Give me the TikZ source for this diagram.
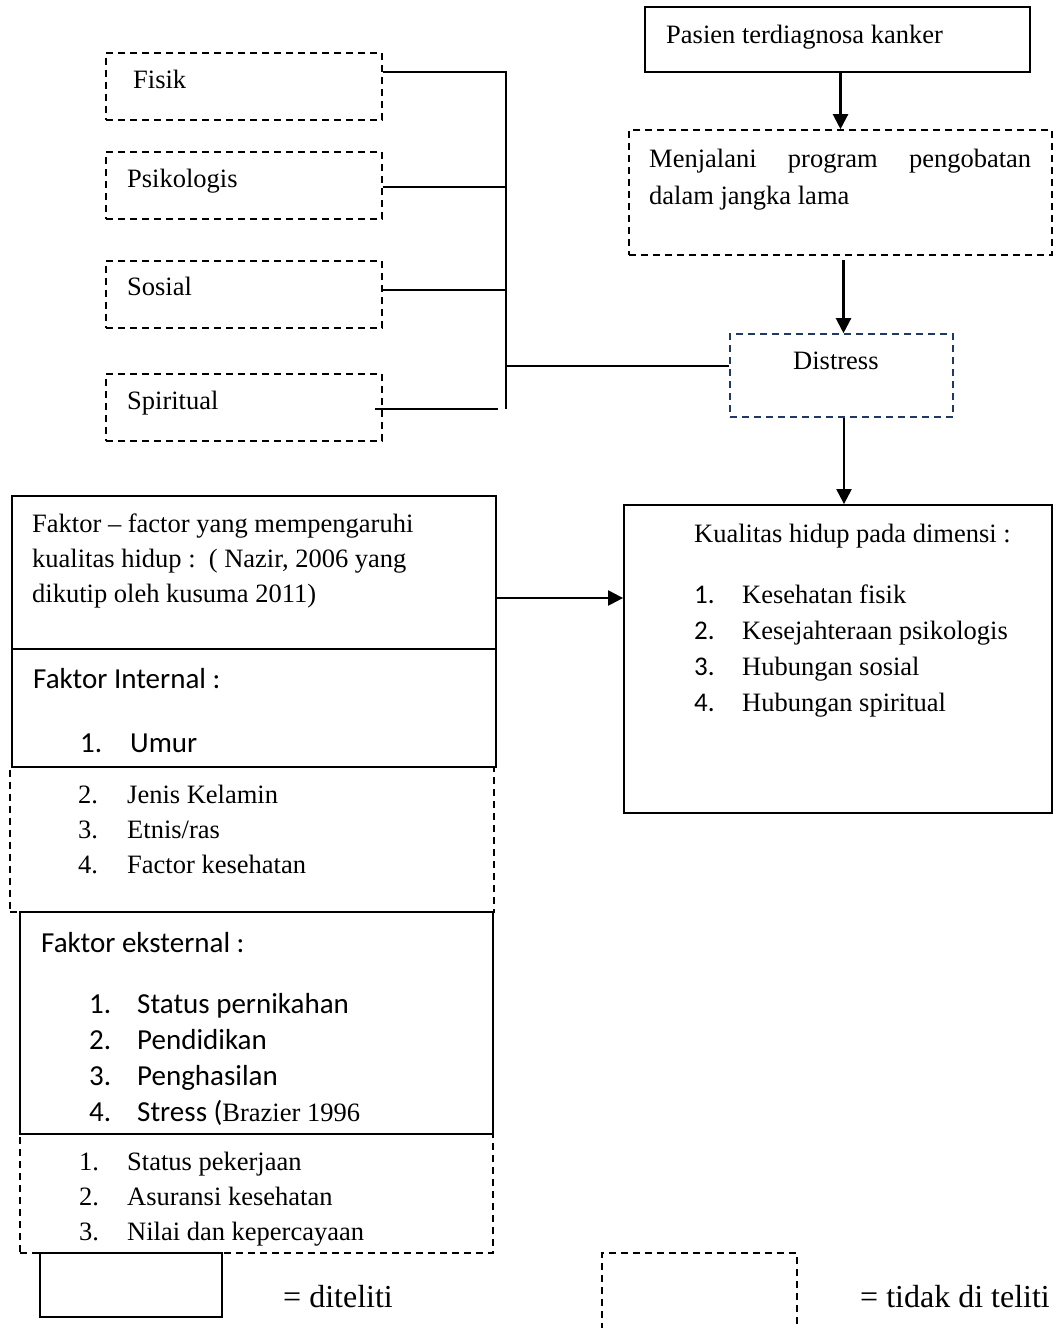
\documentclass[tikz,border=0pt]{standalone}
\usepackage{fontspec}
\setmainfont{Liberation Serif}
\newfontfamily\calfont{Carlito}
\usetikzlibrary{arrows.meta,fit}
\definecolor{distblue}{HTML}{1F3864}
\begin{document}
\begin{tikzpicture}[x=1pt,y=-1pt,
  solidbox/.style={draw=black,line width=1.8pt,inner sep=0pt},
  dashbox/.style={draw=black,line width=1.6pt,dash pattern=on 7pt off 5pt,inner sep=0pt},
  conn/.style={line width=1.8pt},
  arr/.style={line width=2.2pt,-{Triangle[length=15pt,width=15pt]}},
  txt/.style={anchor=base west,inner sep=0pt,font=\fontsize{26.5}{35}\selectfont},
  ltxt/.style={anchor=base west,inner sep=0pt,font=\fontsize{32}{38}\selectfont},
  stxt/.style={anchor=base west,inner sep=0pt,font=\fontsize{29}{36}\calfont},
  snum/.style={anchor=base west,inner sep=0pt,font=\fontsize{27}{36}\calfont},
]
\useasboundingbox (0,0) rectangle (1057,1328);
\clip (0,0) rectangle (1057,1328);

% left dashed boxes
\node[dashbox,fit={(106,53) (382,120)}] (fisik) {};
\node[dashbox,fit={(106,152) (382,219)}] (psik) {};
\node[dashbox,fit={(106,261) (382,328)}] (sosial) {};
\node[dashbox,fit={(106,374) (382,441)}] (spirit) {};

% right column
\node[solidbox,fit={(645,7) (1030,72)}] (pasien) {};
\node[dashbox,fit={(629,130) (1052,255)}] (menjalani) {};
\node[dashbox,draw=distblue,fit={(730,334) (953,417)}] (distress) {};
\node[solidbox,fit={(624,505) (1052,813)}] (kualitas) {};

% left factor stack
\node[dashbox,fit={(10,767) (494,912)}] (internalb) {};
\node[dashbox,fit={(20,1134) (493,1253)}] (eksternalb) {};
\node[solidbox,fit={(12,496) (496,649)}] (faktor) {};
\node[solidbox,fit={(12,649) (496,767)}] (internal) {};
\node[solidbox,fit={(20,912) (493,1134)}] (eksternal) {};

% legend
\node[solidbox,fit={(40,1253) (222,1317)}] (legsolid) {};
\node[dashbox,fit={(602,1253) (797,1345)}] (legdash) {};

% connectors (bus)
\coordinate (busT) at (506,72);
\coordinate (busB) at (506,409);
\coordinate (busM) at (506,366);
\draw[conn] (fisik.east |- busT) -- (busT) -- (busB);
\draw[conn] ([yshift=-1.5pt]psik.east) -- ([yshift=-1.5pt]psik.east -| busT);
\draw[conn] ([yshift=4.5pt]sosial.east) -- ([yshift=4.5pt]sosial.east -| busT);
\draw[conn] ([xshift=-8pt,yshift=-1.5pt]spirit.east) -- ([xshift=-8pt,yshift=-1.5pt]busB |- spirit.east);
\draw[conn] (busM) -- (busM -| distress.west);

% arrows
\draw[arr] (pasien.south -| menjalani.north) -- (menjalani.north);
\draw[arr] ([xshift=3pt,yshift=-4pt]menjalani.south) -- ([xshift=3pt]menjalani.south |- distress.north);
\draw[arr] ([xshift=2.5pt]distress.south) -- ([xshift=2.5pt]distress.south |- kualitas.north);
\coordinate (fk) at (496,598);
\draw[arr] (fk) -- (fk -| kualitas.west);

% texts top-left
\node[txt] (tFisik) at (133,88) {Fisik};
\node[txt] (tPsik) at (127,187) {Psikologis};
\node[txt] (tSos) at (127,295) {Sosial};
\node[txt] (tSpi) at (127,409) {Spiritual};

% texts right
\node[txt] (tPas) at (666,43) {Pasien terdiagnosa kanker};
\node[txt] (tMen1) at (649,167) {\hbox to 382pt{Menjalani\hfill program\hfill pengobatan}};
\node[txt] (tMen2) at (649,204) {dalam jangka lama};
\node[txt] (tDis) at (793,369) {Distress};
\node[txt] (tKua) at (694,542) {Kualitas hidup pada dimensi :};
\node[snum] (nK1) at (694,603) {1.};
\node[snum] (nK2) at (694,639) {2.};
\node[snum] (nK3) at (694,675) {3.};
\node[snum] (nK4) at (694,711) {4.};
\node[txt] (tK1) at (742,603) {Kesehatan fisik};
\node[txt] (tK2) at (742,639) {Kesejahteraan psikologis};
\node[txt] (tK3) at (742,675) {Hubungan sosial};
\node[txt] (tK4) at (742,711) {Hubungan spiritual};

% texts left stack
\node[txt] (tF1) at (32,532) {Faktor – factor yang mempengaruhi};
\node[txt] (tF2) at (32,567) {kualitas hidup :\ \ ( Nazir, 2006 yang};
\node[txt] (tF3) at (32,602) {dikutip oleh kusuma 2011)};
\node[stxt] (tFI) at (33,688) {Faktor Internal :};
\node[stxt] (nI1) at (80,752) {1.};
\node[stxt] (tI1) at (130,752) {Umur};
\node[txt] (nI2) at (78,803) {2.};
\node[txt] (nI3) at (78,838) {3.};
\node[txt] (nI4) at (78,873) {4.};
\node[txt] (tI2) at (127,803) {Jenis Kelamin};
\node[txt] (tI3) at (127,838) {Etnis/ras};
\node[txt] (tI4) at (127,873) {Factor kesehatan};
\node[stxt] (tFE) at (41,952) {Faktor eksternal :};
\node[stxt] (nE1) at (89,1013) {1.};
\node[stxt] (nE2) at (89,1049) {2.};
\node[stxt] (nE3) at (89,1085) {3.};
\node[stxt] (nE4) at (89,1121) {4.};
\node[stxt] (tE1) at (137,1013) {Status pernikahan};
\node[stxt] (tE2) at (137,1049) {Pendidikan};
\node[stxt] (tE3) at (137,1085) {Penghasilan};
\node[stxt] (tE4) at (137,1121) {Stress ({\fontsize{26.5}{35}\rmfamily Brazier 1996}};
\node[txt] (nX1) at (79,1170) {1.};
\node[txt] (nX2) at (79,1205) {2.};
\node[txt] (nX3) at (79,1240) {3.};
\node[txt] (tX1) at (127,1170) {Status pekerjaan};
\node[txt] (tX2) at (127,1205) {Asuransi kesehatan};
\node[txt] (tX3) at (127,1240) {Nilai dan kepercayaan};

% legend texts
\node[ltxt] (tL1) at (283,1307) {= diteliti};
\node[ltxt] (tL2) at (860,1307) {= tidak di teliti};
\end{tikzpicture}
\end{document}
